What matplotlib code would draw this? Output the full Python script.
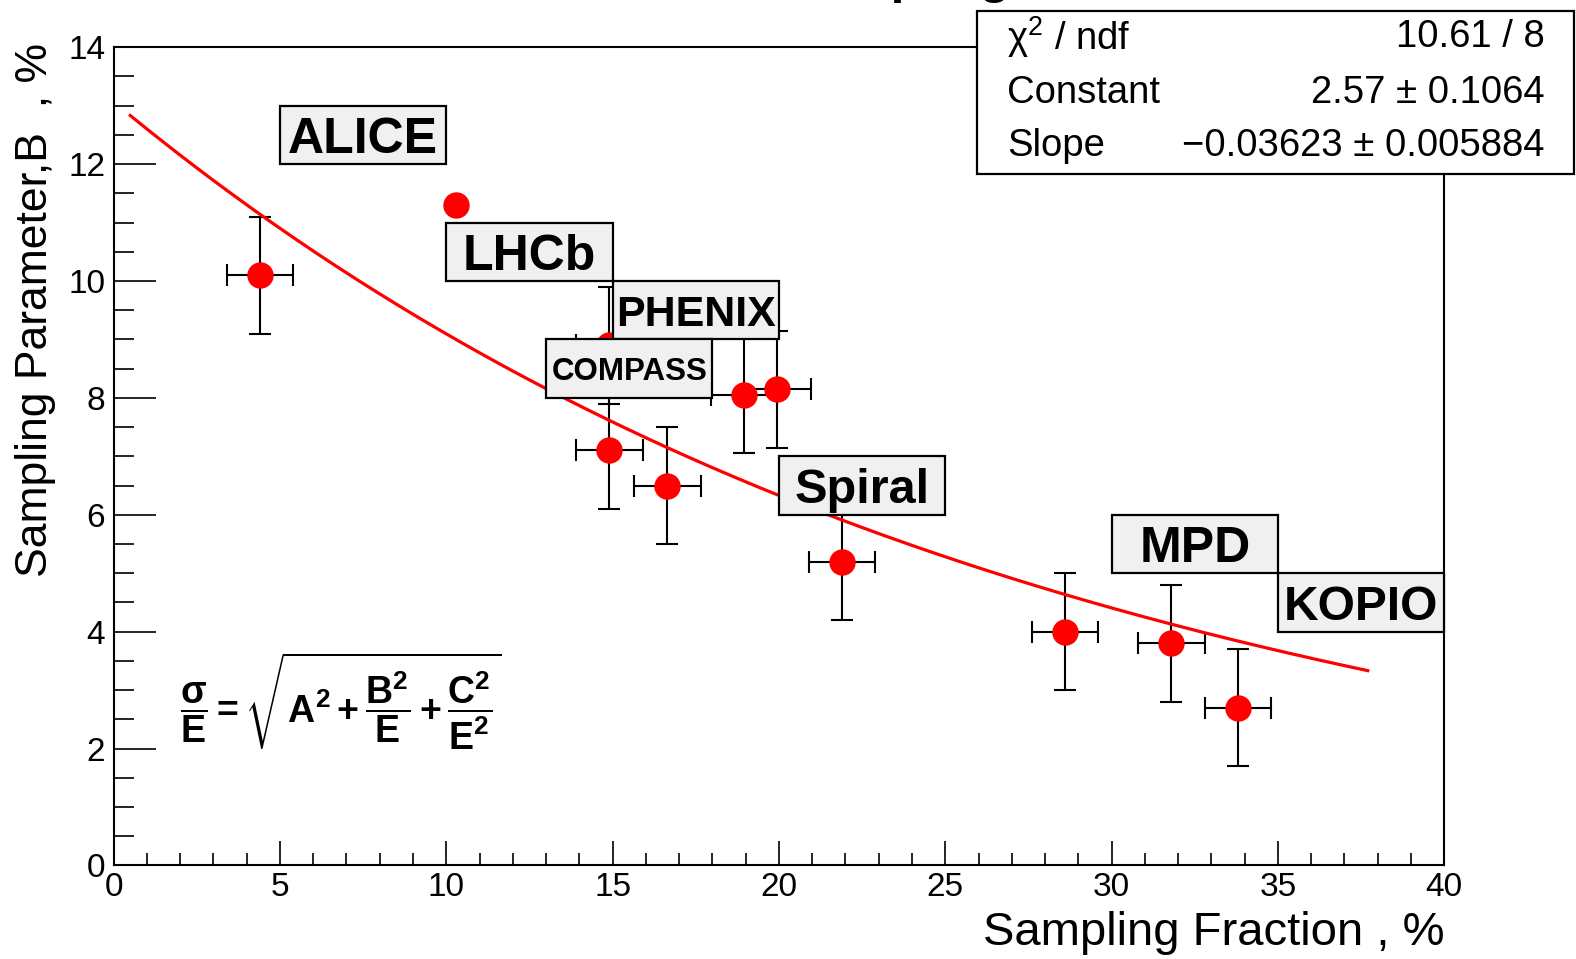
import numpy as np
import matplotlib
matplotlib.use('Agg')
import matplotlib.pyplot as plt
from matplotlib.patches import Rectangle
from matplotlib.ticker import MultipleLocator

plt.rcParams['font.family'] = ['Liberation Sans', 'DejaVu Sans']
plt.rcParams['mathtext.fontset'] = 'custom'
plt.rcParams['mathtext.rm'] = 'Liberation Sans'
plt.rcParams['mathtext.it'] = 'Liberation Sans:italic'
plt.rcParams['mathtext.bf'] = 'Liberation Sans:bold'

# data
sampling_fraction = [4.4, 10.3, 14.9, 14.9, 16.65, 18.95, 19.95, 21.9, 28.6, 31.8, 33.8]
sampling_param = [10.1, 11.3, 8.9, 7.1, 6.5, 8.05, 8.15, 5.2, 4.0, 3.8, 2.7]
x_err = [1, 0, 1, 1, 1, 1, 1, 1, 1, 1, 1]
y_err = [1, 0, 1, 1, 1, 1, 1, 1, 1, 1, 1]

# expo fit result (stats box)
fit_constant = 2.57
fit_slope = -0.03623
fit_range = (0.5, 37.7)
stats_names = [r'$\mathrm{\chi}^{2}$ / ndf', 'Constant', 'Slope']
stats_values = ['10.61 / 8', '2.57 \u00b1 0.1064', '\u22120.03623 \u00b1 0.005884']

# experiment labels and their boxes (x0, y0, x1, y1)
exp_names = ['ALICE', 'LHCb', 'PHENIX', 'COMPASS', 'Spiral', 'MPD', 'KOPIO']
exp_boxes = [(5, 12, 10, 13), (10, 10, 15, 11), (15, 9, 20, 10), (13, 8, 18, 9),
             (20, 6, 25, 7), (30, 5, 35, 6), (35, 4, 40, 5)]
exp_sizes = [36, 36, 31, 22.5, 35, 36, 34.5]

fig = plt.figure(figsize=(15.76, 9.59), dpi=100)
ax = fig.add_axes([0.0721, 0.0975, 0.8443, 0.8533])

ax.errorbar(sampling_fraction, sampling_param, xerr=x_err, yerr=y_err, fmt='none',
            ecolor='black', elinewidth=1.5, capsize=8, capthick=1.5, zorder=2)
ax.plot(sampling_fraction, sampling_param, 'o', color='red', markersize=18, zorder=3)

xs = np.linspace(fit_range[0], fit_range[1], 300)
ax.plot(xs, np.exp(fit_constant + fit_slope * xs), color='red', lw=2.3, zorder=3.5)

for name, box, size in zip(exp_names, exp_boxes, exp_sizes):
    x0, y0, x1, y1 = box
    ax.add_patch(Rectangle((x0, y0), x1 - x0, y1 - y0, facecolor='#f0f0f0',
                           edgecolor='black', lw=1.6, zorder=5, clip_on=False))
    ax.text((x0 + x1) / 2, (y0 + y1) / 2, name, ha='center', va='center_baseline',
            fontsize=size, fontweight='bold', zorder=6)

ax.text(2.0, 2.8, r'$\mathbf{\dfrac{\sigma}{E} = \sqrt{A^{2} + \dfrac{B^{2}}{E} + \dfrac{C^{2}}{E^{2}}}}$',
        ha='left', va='center', fontsize=27, zorder=6)

ax.set_xlim(0, 40)
ax.set_ylim(0, 14)
ax.xaxis.set_major_locator(MultipleLocator(5))
ax.xaxis.set_minor_locator(MultipleLocator(1))
ax.yaxis.set_major_locator(MultipleLocator(2))
ax.yaxis.set_minor_locator(MultipleLocator(0.5))
ax.tick_params(which='both', direction='in', top=False, right=False, width=1.2, labelsize=24)
ax.xaxis.set_tick_params(which='major', length=17, pad=5)
ax.xaxis.set_tick_params(which='minor', length=8.5)
ax.yaxis.set_tick_params(which='major', length=30, pad=6)
ax.yaxis.set_tick_params(which='minor', length=14.4)
for s in ax.spines.values():
    s.set_linewidth(1.5)

ax.set_xlabel('Sampling Fraction , %', fontsize=34, loc='right')
ax.xaxis.set_label_coords(1.0, -0.083)
ax.xaxis.label.set_va('center')
ax.set_ylabel('Sampling Parameter,B  , %', fontsize=32, loc='top')
ax.yaxis.set_label_coords(-0.059, 1.005)
ax.yaxis.label.set_va('center')

# title, mostly cut off at the top edge
fig.text(0.4987, 1.0075, 'Sampling', fontsize=36, fontweight='bold', ha='left', va='baseline')

# stats box
fig.patches.append(Rectangle((0.620, 0.8186), 0.3785, 0.170, transform=fig.transFigure,
                             facecolor='white', edgecolor='black', lw=1.6, zorder=10))
rows_y = [0.9612, 0.9035, 0.8478]
for name, val, y in zip(stats_names, stats_values, rows_y):
    fig.text(0.639, y, name, fontsize=27.5, ha='left', va='center', zorder=11)
    fig.text(0.980, y, val, fontsize=27.5, ha='right', va='center', zorder=11)

plt.savefig('out.png', dpi=100)
